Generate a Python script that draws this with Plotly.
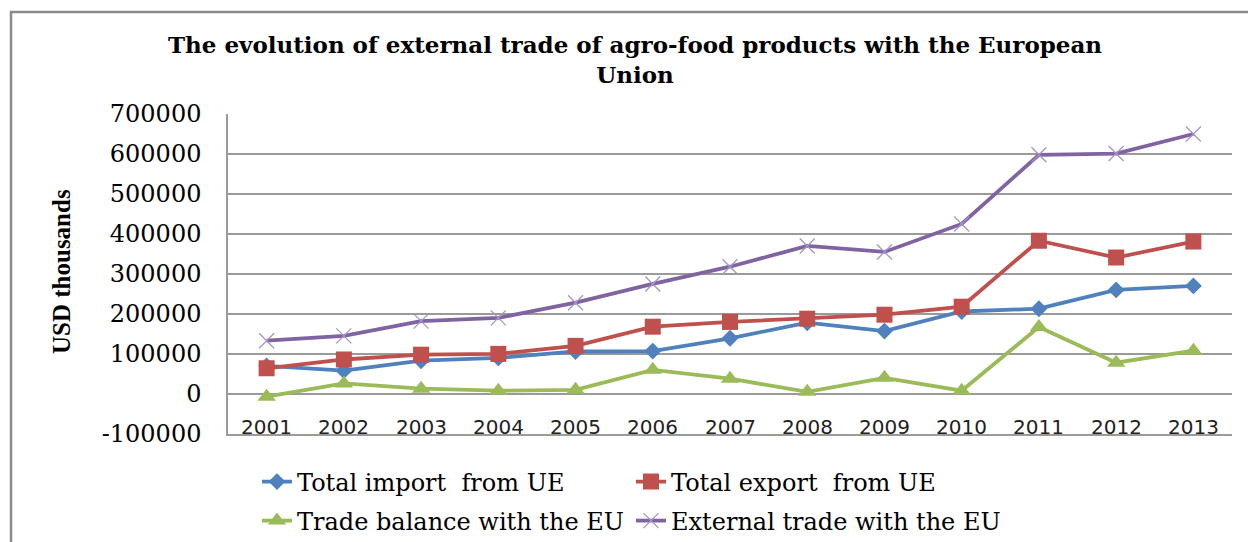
import plotly.graph_objects as go

# Agro-food trade with the European Union, USD thousands
years = ["2001", "2002", "2003", "2004", "2005", "2006", "2007",
         "2008", "2009", "2010", "2011", "2012", "2013"]
total_import = [70000, 58000, 83000, 90000, 106000, 107000, 139000,
                178000, 157000, 206000, 213000, 260000, 270000]
total_export = [64000, 86000, 98000, 100000, 120000, 168000, 180000,
                188000, 198000, 218000, 383000, 341000, 381000]
trade_balance = [-7000, 26000, 13000, 8000, 10000, 60000, 38000,
                 5000, 40000, 8000, 167000, 78000, 108000]
external_trade = [133000, 145000, 182000, 190000, 228000, 275000, 318000,
                  370000, 355000, 425000, 598000, 601000, 650000]

y_ticks = [-100000, 0, 100000, 200000, 300000, 400000, 500000, 600000, 700000]
y_tick_text = ["-100000", "0", "100000", "200000", "300000", "400000",
               "500000", "600000", "700000"]

W, H = 1248, 542
L, R, T, B = 228, 16, 114, 108
PW, PH = W - L - R, H - T - B

SERIF = "DejaVu Serif"
GRID = "#9a9a9a"


def px_x(p):
    # pixel column -> paper x
    return (p - L) / PW


def px_y(p):
    # pixel row -> paper y
    return (H - B - p) / PH


fig = go.Figure()

series = [
    ("Total import\u00a0 from UE", total_import, "#4F81BD",
     dict(symbol="diamond", size=13), "legend"),
    ("Total export\u00a0 from UE", total_export, "#C0504D",
     dict(symbol="square", size=16), "legend"),
    ("Trade balance with the EU", trade_balance, "#9BBB59",
     dict(symbol="triangle-up", size=16), "legend2"),
    ("External trade with the EU", external_trade, "#8064A2",
     dict(symbol="x-thin", size=15, line=dict(width=1.3, color="#A595C6")),
     "legend2"),
]

for name, vals, color, marker, leg in series:
    fig.add_trace(go.Scatter(
        x=years, y=vals, name=name, mode="lines+markers",
        line=dict(color=color, width=3.8),
        marker=dict(color=color, **marker),
        legend=leg,
    ))

# outer chart frame, running past the right and bottom edges
fig.add_shape(type="rect", xref="paper", yref="paper",
              x0=px_x(11), x1=px_x(1262), y0=px_y(560), y1=px_y(12),
              line=dict(color="#8a8a8a", width=2.5), layer="below")

fig.add_annotation(
    text="<b>USD thousands</b>", textangle=-90, showarrow=False,
    xref="paper", yref="paper", x=px_x(61), y=px_y(272),
    xanchor="center", yanchor="middle",
    font=dict(family="Liberation Serif", size=25, color="#000000"),
)

# year labels sit just above the bottom edge of the plot area
# (category axis: annotation x is the category index)
for i, yr in enumerate(years):
    fig.add_annotation(
        text=yr, x=i, xref="x", y=px_y(427), yref="paper",
        showarrow=False, xanchor="center", yanchor="middle",
        font=dict(family="DejaVu Sans", size=20, color="#222222"),
    )

legend_common = dict(
    orientation="h", xref="container", yref="container",
    xanchor="left", yanchor="middle", entrywidth=329,
    font=dict(family=SERIF, size=24, color="#000000"),
    bgcolor="rgba(0,0,0,0)", borderwidth=0,
)

fig.update_layout(
    width=W, height=H,
    margin=dict(l=L, r=R, t=T, b=B, pad=0),
    paper_bgcolor="#ffffff", plot_bgcolor="#ffffff",
    title=dict(
        text="<b>The evolution of external trade of agro-food products with the European<br>Union</b>",
        x=635 / W, xanchor="center", xref="container",
        y=1 - 53 / H, yanchor="top", yref="container",
        font=dict(family=SERIF, size=23, color="#000000"),
    ),
    legend=dict(x=257 / W, y=1 - 482 / H, **legend_common),
    legend2=dict(x=257 / W, y=1 - 521 / H, **legend_common),
    xaxis=dict(
        type="category", range=[-0.5, 12.5],
        showgrid=False, zeroline=False, showticklabels=False,
        showline=True, linecolor=GRID, linewidth=1.5, ticks="",
    ),
    yaxis=dict(
        range=[-100400, 700000], tickvals=y_ticks, ticktext=y_tick_text,
        showgrid=True, gridcolor=GRID, gridwidth=1.5, zeroline=False,
        showline=True, linecolor=GRID, linewidth=1.5,
        ticks="outside", ticklen=20, tickcolor="rgba(0,0,0,0)",
        tickfont=dict(family=SERIF, size=24, color="#000000"),
    ),
)

fig.write_html("out.html")
